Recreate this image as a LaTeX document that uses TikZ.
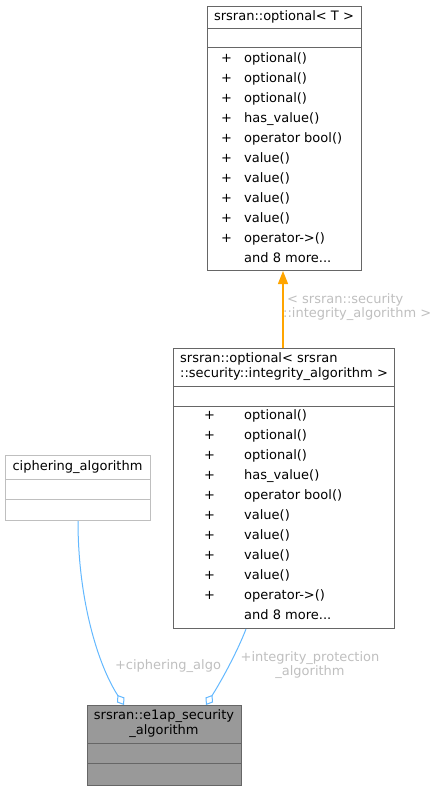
\documentclass[tikz,border=0pt]{standalone}
\usepackage{fontspec}
\setmainfont{DejaVu Sans}
\usetikzlibrary{arrows.meta}

\definecolor{edgeblue}{HTML}{63B8FF}
\definecolor{labelgray}{HTML}{BFBFBF}
\definecolor{boxline}{HTML}{666666}
\definecolor{boxfill}{HTML}{999999}
\definecolor{tplorange}{HTML}{FFA500}

\tikzset{
  classbox/.style={draw=boxline, fill=white, line width=1pt, inner sep=0pt, anchor=north west},
  lightbox/.style={classbox, draw=labelgray},
  mainbox/.style={classbox, fill=boxfill},
  sepline/.style={boxline, line width=1pt},
  rowtext/.style={anchor=base west, inner sep=0pt, font=\fontsize{13}{15}\selectfont},
  titletext/.style={inner sep=0pt, font=\fontsize{13}{15}\selectfont, align=center},
  edgelabel/.style={inner sep=0pt, text=labelgray, font=\fontsize{13}{14.5}\selectfont, align=center},
  member/.style={edgeblue, line width=1pt, {Diamond[open, fill=white, length=12pt, width=9pt]}-}
}

\begin{document}
\begin{tikzpicture}[x=1pt, y=-1pt]
  \useasboundingbox (0,0) rectangle (439,791);

  % Draw the template class
  \node[classbox, minimum width=154pt, minimum height=264pt] (optT) at (207,6) {};
  \draw[sepline] (207,29) -- (361,29);
  \draw[sepline] (207,48) -- (361,48);
  \node[titletext] (optTtitle) at (284,17) {srsran::optional< T >};
  \foreach \fn [count=\i from 0] in {optional(), optional(), optional(), has\_value(), operator bool(), value(), value(), value(), value(), operator->()} {
    \node[rowtext] at (221,62.5+20*\i) {+};
    \node[rowtext] at (244,62.5+20*\i) {\fn};
  }
  \node[rowtext] (optTmore) at (244,262.5) {and 8 more...};

  % Draw the instantiated class
  \node[classbox, minimum width=221pt, minimum height=280pt] (optInt) at (173,348) {};
  \draw[sepline] (173,386) -- (394,386);
  \draw[sepline] (173,406) -- (394,406);
  \node[titletext, align=left, anchor=north west] (optInttitle) at (180,352) {srsran::optional< srsran\\::security::integrity\_algorithm >};
  \foreach \fn [count=\i from 0] in {optional(), optional(), optional(), has\_value(), operator bool(), value(), value(), value(), value(), operator->()} {
    \node[rowtext] at (204,419.5+20*\i) {+};
    \node[rowtext] at (244,419.5+20*\i) {\fn};
  }
  \node[rowtext] (optIntmore) at (244,619.5) {and 8 more...};

  % Draw the ciphering class
  \node[lightbox, minimum width=145pt, minimum height=65pt] (cipher) at (5,455) {};
  \draw[sepline, labelgray] (5,479) -- (150,479);
  \draw[sepline, labelgray] (5,499) -- (150,499);
  \node[titletext] (ciphertitle) at (77.5,467) {ciphering\_algorithm};

  % Draw the main class
  \node[mainbox, minimum width=154pt, minimum height=80pt] (e1ap) at (87,705) {};
  \draw[sepline] (87,743) -- (241,743);
  \draw[sepline] (87,763) -- (241,763);
  \node[titletext] (e1aptitle) at (164,724) {srsran::e1ap\_security\\\_algorithm};

  % Template instantiation arrow
  \draw[tplorange, line width=1.2pt, -{Triangle[length=13pt, width=10pt]}] (optInt.north -| 283,0) -- (optT.south -| 283,0);
  \node[edgelabel, align=left, anchor=west] (tpllabel) at (283,307) {\hspace{4pt}< srsran::security\\::integrity\_algorithm >};

  % Member arrows
  \coordinate (cipherhead) at (124,705);
  \coordinate (integhead) at (206,705);
  \draw[member] (cipherhead) .. controls (98,665) and (78,600) .. (cipher.south -| 78,0);
  \draw[member] (integhead) .. controls (222,680) and (238,650) .. (optInt.south -| 246,0);
  \node[edgelabel] (cipherlabel) at (168,666) {+ciphering\_algo};
  \node[edgelabel] (integlabel) at (310,665) {+integrity\_protection\\\_algorithm};
\end{tikzpicture}
\end{document}
